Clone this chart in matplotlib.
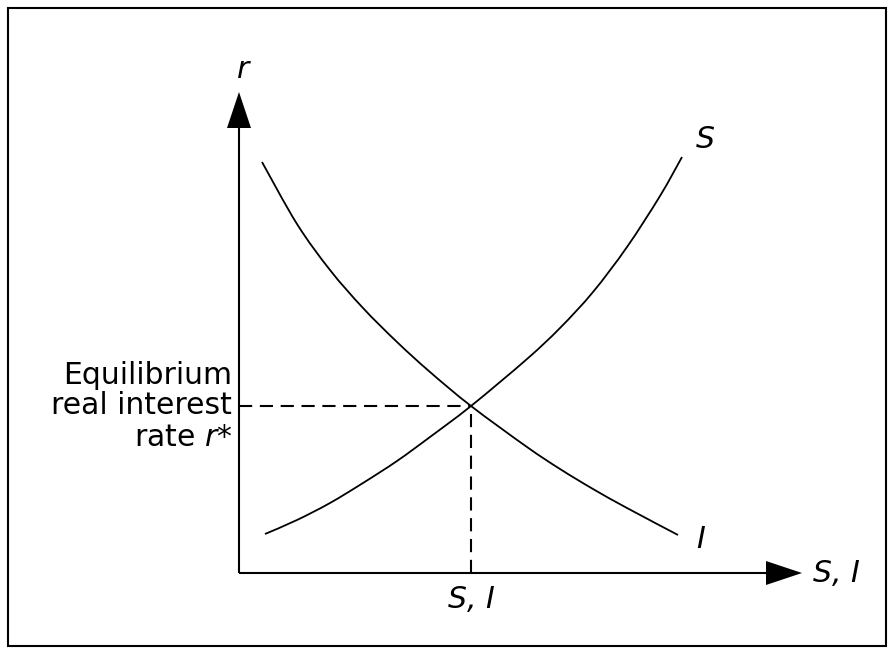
import matplotlib
matplotlib.use("Agg")
import matplotlib.pyplot as plt
from matplotlib.patches import Rectangle, PathPatch
from matplotlib.path import Path

## Data (units: distance from the origin of the diagram)
s_x = [26, 58, 91, 124, 158, 191, 232, 288, 321, 354, 388, 421, 443]
s_y = [39, 53, 70, 90, 112, 136, 167, 214, 245, 281, 326, 377, 416]
i_x = [23, 58, 91, 124, 158, 191, 232, 288, 321, 354, 388, 439]
i_y = [411, 349, 303, 265, 231, 201, 167, 126, 104, 84, 65, 38]

q_star = 232     # equilibrium S = I
r_star = 167     # equilibrium real interest rate

x_end = 563      # tip of horizontal axis arrow
y_end = 481      # tip of vertical axis arrow

plt.rcParams['font.family'] = ['DejaVu Sans']
plt.rcParams['lines.scale_dashes'] = False

fs = 21.5
lw_axis = 1.5
lw_curve = 1.3


def smooth_path(xs, ys):
	## Catmull-Rom through the read points, drawn as cubic Bezier segments
	pts = list(zip(xs, ys))
	verts = [pts[0]]
	codes = [Path.MOVETO]
	n = len(pts)
	for k in range(n - 1):
		p0 = pts[max(k - 1, 0)]
		p1 = pts[k]
		p2 = pts[k + 1]
		p3 = pts[min(k + 2, n - 1)]
		c1 = (p1[0] + (p2[0] - p0[0]) / 6, p1[1] + (p2[1] - p0[1]) / 6)
		c2 = (p2[0] - (p3[0] - p1[0]) / 6, p2[1] - (p3[1] - p1[1]) / 6)
		verts += [c1, c2, p2]
		codes += [Path.CURVE4] * 3
	return Path(verts, codes)


fig = plt.figure(figsize=(8.88, 6.48), dpi=100)
ax = fig.add_axes([0, 0, 1, 1])
ax.set_xlim(-239, 649)
ax.set_ylim(-75, 573)
ax.axis("off")

## Frame around the figure
fig.patches.append(Rectangle((8 / 888, 2 / 648), 878 / 888, 638 / 648,
                             transform=fig.transFigure, fill=False,
                             edgecolor="black", linewidth=1.5))

## Axes with arrow heads
head_len, head_w = 36, 12
ax.plot([0, 0], [0, y_end - head_len], color="black", lw=lw_axis, solid_capstyle="butt")
ax.plot([0, x_end - head_len], [0, 0], color="black", lw=lw_axis, solid_capstyle="butt")
ax.fill([-head_w, head_w, 0], [y_end - head_len, y_end - head_len, y_end], color="black", lw=0)
ax.fill([x_end - head_len, x_end - head_len, x_end], [-head_w, head_w, 0], color="black", lw=0)

## Curves
for xs, ys in [(s_x, s_y), (i_x, i_y)]:
	ax.add_patch(PathPatch(smooth_path(xs, ys), facecolor="none", edgecolor="black",
	                       lw=lw_curve, capstyle="butt"))

## Equilibrium guides
ax.plot([0, q_star], [r_star, r_star], color="black", lw=lw_axis, dashes=(9.5, 5.5))
ax.plot([q_star, q_star], [0, r_star], color="black", lw=lw_axis, dashes=(9.5, 5.5))

## Labels
ax.text(4, 503, "r", fontsize=fs, style="italic", ha="center", va="center")
ax.text(466, 434, "S", fontsize=fs, style="italic", ha="center", va="center")
ax.text(462, 33, "I", fontsize=fs, style="italic", ha="center", va="center")
ax.text(574, 0, "S, I", fontsize=fs, style="italic", ha="left", va="center")
ax.text(q_star, -27, "S, I", fontsize=fs, style="italic", ha="center", va="center")
ax.text(-7, r_star + 30, "Equilibrium", fontsize=fs, ha="right", va="center")
ax.text(-7, r_star, "real interest", fontsize=fs, ha="right", va="center")
ax.text(-7, r_star - 32, "rate $r$*", fontsize=fs, ha="right", va="center")

fig.savefig("out.png", dpi=100)
